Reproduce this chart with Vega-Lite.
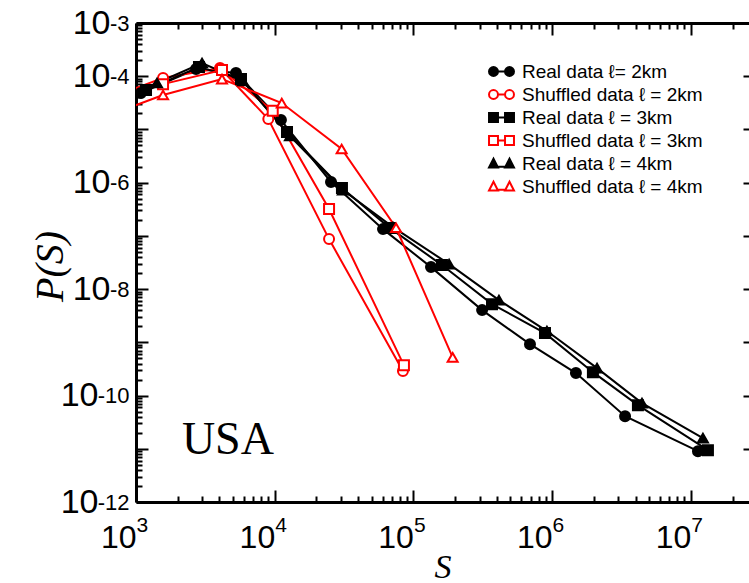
{
  "$schema": "https://vega.github.io/schema/vega-lite/v6.json",
  "width": 613,
  "height": 479,
  "autosize": {"type": "none"},
  "padding": {"left": 136, "top": 23, "right": 0, "bottom": 81},
  "background": "white",
  "config": {"view": {"stroke": null}, "axis": {"grid": false}},
  "datasets": {
    "dist": [
      {"series": "Real data ℓ= 2km", "S": 628, "P": 3.13e-5},
      {"series": "Real data ℓ= 2km", "S": 1086, "P": 4.83e-5},
      {"series": "Real data ℓ= 2km", "S": 2710, "P": 1.36e-4},
      {"series": "Real data ℓ= 2km", "S": 5260, "P": 1.15e-4},
      {"series": "Real data ℓ= 2km", "S": 11090, "P": 1.5e-5},
      {"series": "Real data ℓ= 2km", "S": 25470, "P": 1.03e-6},
      {"series": "Real data ℓ= 2km", "S": 60400, "P": 1.34e-7},
      {"series": "Real data ℓ= 2km", "S": 134000, "P": 2.59e-8},
      {"series": "Real data ℓ= 2km", "S": 313000, "P": 4.03e-9},
      {"series": "Real data ℓ= 2km", "S": 693000, "P": 9.25e-10},
      {"series": "Real data ℓ= 2km", "S": 1486000, "P": 2.64e-10},
      {"series": "Real data ℓ= 2km", "S": 3360000, "P": 4.1e-11},
      {"series": "Real data ℓ= 2km", "S": 11270000, "P": 9.0e-12},
      {"series": "Shuffled data ℓ = 2km", "S": 628, "P": 3.83e-5},
      {"series": "Shuffled data ℓ = 2km", "S": 1567, "P": 9.25e-5},
      {"series": "Shuffled data ℓ = 2km", "S": 4036, "P": 1.43e-4},
      {"series": "Shuffled data ℓ = 2km", "S": 8995, "P": 1.57e-5},
      {"series": "Shuffled data ℓ = 2km", "S": 24660, "P": 8.7e-8},
      {"series": "Shuffled data ℓ = 2km", "S": 84100, "P": 2.88e-10},
      {"series": "Real data ℓ = 3km", "S": 628, "P": 3.57e-5},
      {"series": "Real data ℓ = 3km", "S": 1181, "P": 5.51e-5},
      {"series": "Real data ℓ = 3km", "S": 2845, "P": 1.49e-4},
      {"series": "Real data ℓ = 3km", "S": 5715, "P": 8.86e-5},
      {"series": "Real data ℓ = 3km", "S": 12270, "P": 8.93e-6},
      {"series": "Real data ℓ = 3km", "S": 30550, "P": 7.9e-7},
      {"series": "Real data ℓ = 3km", "S": 67800, "P": 1.4e-7},
      {"series": "Real data ℓ = 3km", "S": 160700, "P": 2.83e-8},
      {"series": "Real data ℓ = 3km", "S": 369000, "P": 5.22e-9},
      {"series": "Real data ℓ = 3km", "S": 889000, "P": 1.49e-9},
      {"series": "Real data ℓ = 3km", "S": 1970000, "P": 2.75e-10},
      {"series": "Real data ℓ = 3km", "S": 4160000, "P": 6.6e-11},
      {"series": "Real data ℓ = 3km", "S": 13300000, "P": 9.4e-12},
      {"series": "Shuffled data ℓ = 3km", "S": 628, "P": 4.2e-5},
      {"series": "Shuffled data ℓ = 3km", "S": 1567, "P": 7.1e-5},
      {"series": "Shuffled data ℓ = 3km", "S": 4170, "P": 1.31e-4},
      {"series": "Shuffled data ℓ = 3km", "S": 9680, "P": 2.25e-5},
      {"series": "Shuffled data ℓ = 3km", "S": 24660, "P": 3.19e-7},
      {"series": "Shuffled data ℓ = 3km", "S": 85500, "P": 3.7e-10},
      {"series": "Real data ℓ = 4km", "S": 628, "P": 3.0e-5},
      {"series": "Real data ℓ = 4km", "S": 1417, "P": 7.45e-5},
      {"series": "Real data ℓ = 4km", "S": 2993, "P": 1.77e-4},
      {"series": "Real data ℓ = 4km", "S": 5900, "P": 8.13e-5},
      {"series": "Real data ℓ = 4km", "S": 12880, "P": 7.52e-6},
      {"series": "Real data ℓ = 4km", "S": 31000, "P": 7.26e-7},
      {"series": "Real data ℓ = 4km", "S": 71300, "P": 1.46e-7},
      {"series": "Real data ℓ = 4km", "S": 181000, "P": 2.95e-8},
      {"series": "Real data ℓ = 4km", "S": 414000, "P": 6.2e-9},
      {"series": "Real data ℓ = 4km", "S": 918000, "P": 1.63e-9},
      {"series": "Real data ℓ = 4km", "S": 2110000, "P": 3.27e-10},
      {"series": "Real data ℓ = 4km", "S": 4450000, "P": 7.2e-11},
      {"series": "Real data ℓ = 4km", "S": 12240000, "P": 1.58e-11},
      {"series": "Shuffled data ℓ = 4km", "S": 628, "P": 1.83e-5},
      {"series": "Shuffled data ℓ = 4km", "S": 1567, "P": 4.43e-5},
      {"series": "Shuffled data ℓ = 4km", "S": 4170, "P": 8.85e-5},
      {"series": "Shuffled data ℓ = 4km", "S": 11250, "P": 3.13e-5},
      {"series": "Shuffled data ℓ = 4km", "S": 30400, "P": 4.29e-6},
      {"series": "Shuffled data ℓ = 4km", "S": 75000, "P": 1.42e-7},
      {"series": "Shuffled data ℓ = 4km", "S": 192000, "P": 5.2e-10}
    ],
    "note": [{"S": 4600, "P": 1.45e-11, "label": "USA"}]
  },
  "data": {"name": "dist"},
  "resolve": {
    "scale": {"color": "independent", "fill": "independent", "shape": "independent"},
    "axis": {"x": "independent", "y": "independent"}
  },
  "layer": [
    {
      "mark": {"type": "line", "strokeWidth": 2, "clip": true},
      "encoding": {
        "x": {
          "field": "S", "type": "quantitative",
          "scale": {"type": "log", "domain": [1000, 26300000], "nice": false},
          "axis": {
            "orient": "bottom", "offset": -12,
            "values": [1000, 10000, 100000, 1000000, 10000000],
            "title": "S",
            "titleFont": "Liberation Serif", "titleFontStyle": "italic", "titleFontWeight": "normal",
            "titleFontSize": 34, "titleColor": "black", "titleBaseline": "alphabetic", "titleY": 87,
            "domain": false,
            "ticks": true, "tickColor": "black", "tickWidth": 2, "tickSize": 12,
            "labelExpr": "'10'",
            "labelFont": "Liberation Sans", "labelFontSize": 32, "labelColor": "black",
            "labelAlign": "right", "labelDx": 13, "labelBaseline": "top", "labelPadding": 20,
            "labelFlush": false, "labelOverlap": false
          }
        },
        "y": {
          "field": "P", "type": "quantitative",
          "scale": {"type": "log", "domain": [1e-12, 1e-3], "nice": false},
          "axis": {
            "orient": "left", "offset": -12,
            "values": [1e-12, 1e-11, 1e-10, 1e-9, 1e-8, 1e-7, 1e-6, 1e-5, 1e-4, 1e-3],
            "title": "P(S)",
            "titleFont": "Liberation Serif", "titleFontStyle": "italic", "titleFontWeight": "normal",
            "titleFontSize": 40, "titleColor": "black", "titleAngle": -90,
            "titleX": -86, "titleY": 243, "titleAlign": "center", "titleBaseline": "alphabetic",
            "domain": false,
            "ticks": true, "tickColor": "black", "tickWidth": 2, "tickSize": 12,
            "labelExpr": "round(log(datum.value)/LN10) == -3 || round(log(datum.value)/LN10) % 2 == 0 ? '10' : ''",
            "labelFont": "Liberation Sans", "labelFontSize": 34, "labelColor": "black",
            "labelAlign": "right", "labelBaseline": "middle", "labelDy": 4,
            "labelPadding": {"condition": {"test": "datum.value < 1e-9", "value": 38}, "value": 26},
            "labelFlush": false, "labelOverlap": false
          }
        },
        "color": {
          "field": "series", "type": "nominal",
          "scale": {
            "domain": ["Real data ℓ= 2km", "Shuffled data ℓ = 2km", "Real data ℓ = 3km", "Shuffled data ℓ = 3km", "Real data ℓ = 4km", "Shuffled data ℓ = 4km"],
            "range": ["#000000", "#ff0000", "#000000", "#ff0000", "#000000", "#ff0000"]
          },
          "legend": null
        }
      }
    },
    {
      "mark": {"type": "point", "size": 100, "strokeWidth": 2, "opacity": 1, "clip": true},
      "encoding": {
        "x": {
          "field": "S", "type": "quantitative",
          "scale": {"type": "log", "domain": [1000, 26300000], "nice": false},
          "axis": {
            "orient": "bottom", "offset": -6,
            "values": [2000, 3000, 4000, 5000, 6000, 7000, 8000, 9000, 20000, 30000, 40000, 50000, 60000, 70000, 80000, 90000, 200000, 300000, 400000, 500000, 600000, 700000, 800000, 900000, 2000000, 3000000, 4000000, 5000000, 6000000, 7000000, 8000000, 9000000, 20000000],
            "title": null, "labels": false, "domain": false,
            "ticks": true, "tickColor": "black", "tickWidth": 2, "tickSize": 6
          }
        },
        "y": {
          "field": "P", "type": "quantitative",
          "scale": {"type": "log", "domain": [1e-12, 1e-3], "nice": false},
          "axis": {
            "orient": "left", "offset": -6,
            "values": [2e-12, 3e-12, 4e-12, 5e-12, 6e-12, 7e-12, 8e-12, 9e-12, 2e-11, 3e-11, 4e-11, 5e-11, 6e-11, 7e-11, 8e-11, 9e-11, 2e-10, 3e-10, 4e-10, 5e-10, 6e-10, 7e-10, 8e-10, 9e-10, 2e-9, 3e-9, 4e-9, 5e-9, 6e-9, 7e-9, 8e-9, 9e-9, 2e-8, 3e-8, 4e-8, 5e-8, 6e-8, 7e-8, 8e-8, 9e-8, 2e-7, 3e-7, 4e-7, 5e-7, 6e-7, 7e-7, 8e-7, 9e-7, 2e-6, 3e-6, 4e-6, 5e-6, 6e-6, 7e-6, 8e-6, 9e-6, 2e-5, 3e-5, 4e-5, 5e-5, 6e-5, 7e-5, 8e-5, 9e-5, 2e-4, 3e-4, 4e-4, 5e-4, 6e-4, 7e-4, 8e-4, 9e-4],
            "title": null, "labels": false, "domain": false,
            "ticks": true, "tickColor": "black", "tickWidth": 2, "tickSize": 6
          }
        },
        "color": {
          "field": "series", "type": "nominal",
          "scale": {
            "domain": ["Real data ℓ= 2km", "Shuffled data ℓ = 2km", "Real data ℓ = 3km", "Shuffled data ℓ = 3km", "Real data ℓ = 4km", "Shuffled data ℓ = 4km"],
            "range": ["#000000", "#ff0000", "#000000", "#ff0000", "#000000", "#ff0000"]
          },
          "legend": null
        },
        "fill": {
          "field": "series", "type": "nominal",
          "scale": {
            "domain": ["Real data ℓ= 2km", "Shuffled data ℓ = 2km", "Real data ℓ = 3km", "Shuffled data ℓ = 3km", "Real data ℓ = 4km", "Shuffled data ℓ = 4km"],
            "range": ["#000000", "#ffffff", "#000000", "#ffffff", "#000000", "#ffffff"]
          },
          "legend": null
        },
        "shape": {
          "field": "series", "type": "nominal",
          "scale": {
            "domain": ["Real data ℓ= 2km", "Shuffled data ℓ = 2km", "Real data ℓ = 3km", "Shuffled data ℓ = 3km", "Real data ℓ = 4km", "Shuffled data ℓ = 4km"],
            "range": ["circle", "circle", "square", "square", "triangle-up", "triangle-up"]
          },
          "legend": null
        }
      }
    },
    {
      "transform": [{"filter": "false"}],
      "mark": {"type": "point", "opacity": 1, "clip": true},
      "encoding": {
        "x": {
          "field": "S", "type": "quantitative",
          "scale": {"type": "log", "domain": [1000, 26300000], "nice": false},
          "axis": {
            "orient": "top", "offset": -12,
            "values": [1000, 10000, 100000, 1000000, 10000000],
            "title": null, "labels": false, "domain": false,
            "ticks": true, "tickColor": "black", "tickWidth": 2, "tickSize": 12
          }
        },
        "y": {
          "field": "P", "type": "quantitative",
          "scale": {"type": "log", "domain": [1e-12, 1e-3], "nice": false},
          "axis": {
            "orient": "right", "offset": -6,
            "values": [1e-12, 1e-11, 1e-10, 1e-9, 1e-8, 1e-7, 1e-6, 1e-5, 1e-4, 1e-3],
            "title": null, "labels": false, "domain": false,
            "ticks": true, "tickColor": "black", "tickWidth": 2, "tickSize": 6
          }
        },
        "color": {
          "field": "series", "type": "nominal",
          "scale": {
            "domain": ["Real data ℓ= 2km", "Shuffled data ℓ = 2km", "Real data ℓ = 3km", "Shuffled data ℓ = 3km", "Real data ℓ = 4km", "Shuffled data ℓ = 4km"],
            "range": ["#000000", "#ff0000", "#000000", "#ff0000", "#000000", "#ff0000"]
          },
          "legend": {
            "title": null, "orient": "none", "legendX": 356, "legendY": 39,
            "symbolSize": 256, "symbolStrokeWidth": 2, "symbolOpacity": 1,
            "labelFont": "Liberation Sans", "labelFontSize": 19, "labelColor": "black",
            "labelOffset": 11, "rowPadding": 3, "labelLimit": 300
          }
        },
        "fill": {
          "field": "series", "type": "nominal",
          "scale": {
            "domain": ["Real data ℓ= 2km", "Shuffled data ℓ = 2km", "Real data ℓ = 3km", "Shuffled data ℓ = 3km", "Real data ℓ = 4km", "Shuffled data ℓ = 4km"],
            "range": ["#000000", "#ffffff", "#000000", "#ffffff", "#000000", "#ffffff"]
          },
          "legend": {
            "title": null, "orient": "none", "legendX": 356, "legendY": 39,
            "symbolSize": 256, "symbolStrokeWidth": 2, "symbolOpacity": 1,
            "labelFont": "Liberation Sans", "labelFontSize": 19, "labelColor": "black",
            "labelOffset": 11, "rowPadding": 3, "labelLimit": 300
          }
        },
        "shape": {
          "field": "series", "type": "nominal",
          "scale": {
            "domain": ["Real data ℓ= 2km", "Shuffled data ℓ = 2km", "Real data ℓ = 3km", "Shuffled data ℓ = 3km", "Real data ℓ = 4km", "Shuffled data ℓ = 4km"],
            "range": [
              "M-1.56,0A0.56,0.56 0 1,0 -0.44,0A0.56,0.56 0 1,0 -1.56,0Z M-0.44,0L0.44,0 M0.44,0A0.56,0.56 0 1,0 1.56,0A0.56,0.56 0 1,0 0.44,0Z",
              "M-1.56,0A0.56,0.56 0 1,0 -0.44,0A0.56,0.56 0 1,0 -1.56,0Z M-0.44,0L0.44,0 M0.44,0A0.56,0.56 0 1,0 1.56,0A0.56,0.56 0 1,0 0.44,0Z",
              "M-1.56,-0.56H-0.44V0.56H-1.56Z M-0.44,0H0.44 M0.44,-0.56H1.56V0.56H0.44Z",
              "M-1.56,-0.56H-0.44V0.56H-1.56Z M-0.44,0H0.44 M0.44,-0.56H1.56V0.56H0.44Z",
              "M-1.56,0.5L-1,-0.6L-0.44,0.5Z M-0.44,0.4H0.44 M0.44,0.5L1,-0.6L1.56,0.5Z",
              "M-1.56,0.5L-1,-0.6L-0.44,0.5Z M-0.44,0.4H0.44 M0.44,0.5L1,-0.6L1.56,0.5Z"
            ]
          },
          "legend": {
            "title": null, "orient": "none", "legendX": 356, "legendY": 39,
            "symbolSize": 256, "symbolStrokeWidth": 2, "symbolOpacity": 1,
            "labelFont": "Liberation Sans", "labelFontSize": 19, "labelColor": "black",
            "labelOffset": 11, "rowPadding": 3, "labelLimit": 300
          }
        }
      }
    },
    {
      "data": {"name": "note"},
      "mark": {"type": "text", "font": "Liberation Serif", "fontSize": 46, "color": "black", "align": "center", "baseline": "middle"},
      "encoding": {
        "x": {
          "field": "S", "type": "quantitative",
          "scale": {"type": "log", "domain": [1000, 26300000], "nice": false},
          "axis": {
            "orient": "top", "offset": -6,
            "values": [2000, 3000, 4000, 5000, 6000, 7000, 8000, 9000, 20000, 30000, 40000, 50000, 60000, 70000, 80000, 90000, 200000, 300000, 400000, 500000, 600000, 700000, 800000, 900000, 2000000, 3000000, 4000000, 5000000, 6000000, 7000000, 8000000, 9000000, 20000000],
            "title": null, "labels": false, "domain": false,
            "ticks": true, "tickColor": "black", "tickWidth": 2, "tickSize": 6
          }
        },
        "y": {
          "field": "P", "type": "quantitative",
          "scale": {"type": "log", "domain": [1e-12, 1e-3], "nice": false},
          "axis": null
        },
        "text": {"field": "label"}
      }
    },
    {
      "transform": [{"filter": "false"}],
      "mark": {"type": "point", "opacity": 1},
      "encoding": {
        "x": {
          "field": "S", "type": "quantitative",
          "scale": {"type": "log", "domain": [1000, 26300000], "nice": false},
          "axis": {
            "orient": "bottom",
            "values": [1000, 10000, 100000, 1000000, 10000000],
            "title": null, "domain": true, "domainColor": "black", "domainWidth": 3,
            "ticks": false, "tickSize": 0,
            "labelExpr": "'' + round(log(datum.value)/LN10)",
            "labelFont": "Liberation Sans", "labelFontSize": 21, "labelColor": "black",
            "labelAlign": "left", "labelDx": 15, "labelBaseline": "top", "labelPadding": 12,
            "labelFlush": false, "labelOverlap": false
          }
        },
        "y": {
          "field": "P", "type": "quantitative",
          "scale": {"type": "log", "domain": [1e-12, 1e-3], "nice": false},
          "axis": {
            "orient": "left",
            "values": [1e-12, 1e-10, 1e-8, 1e-6, 1e-4, 1e-3],
            "title": null, "domain": true, "domainColor": "black", "domainWidth": 3,
            "ticks": false, "tickSize": 0,
            "labelExpr": "'' + round(log(datum.value)/LN10)",
            "labelFont": "Liberation Sans", "labelFontSize": 22, "labelColor": "black",
            "labelAlign": "right", "labelBaseline": "middle", "labelDy": -10, "labelPadding": 7,
            "labelFlush": false, "labelOverlap": false
          }
        }
      }
    },
    {
      "transform": [{"filter": "false"}],
      "mark": {"type": "point", "opacity": 1},
      "encoding": {
        "x": {
          "field": "S", "type": "quantitative",
          "scale": {"type": "log", "domain": [1000, 26300000], "nice": false},
          "axis": {
            "orient": "top",
            "values": [1000],
            "title": null, "labels": false, "ticks": false,
            "domain": true, "domainColor": "black", "domainWidth": 3
          }
        },
        "y": {
          "field": "P", "type": "quantitative",
          "scale": {"type": "log", "domain": [1e-12, 1e-3], "nice": false},
          "axis": null
        }
      }
    }
  ]
}
